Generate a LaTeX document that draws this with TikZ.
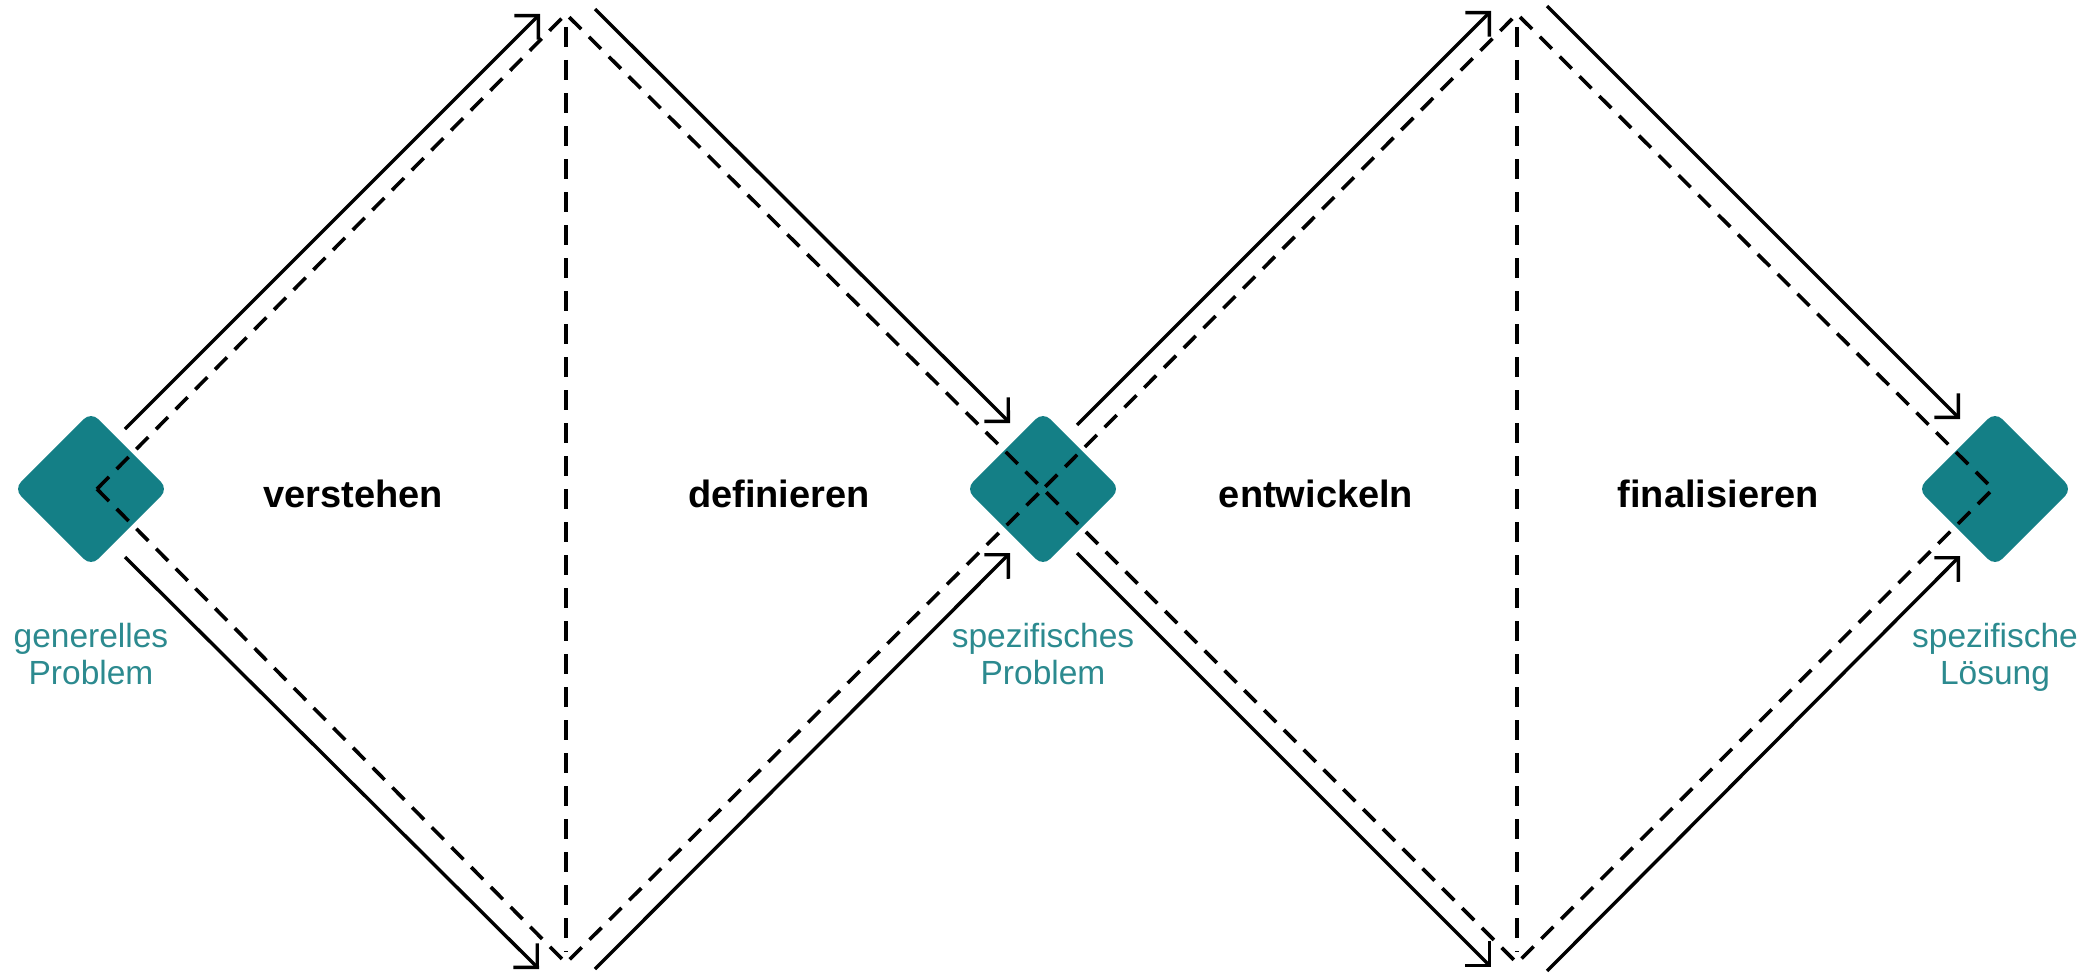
\documentclass[tikz,border=0pt]{standalone}
\usepackage{fontspec}
\setmainfont{Liberation Sans}
\usetikzlibrary{arrows.meta}
\definecolor{teal1}{HTML}{147F86}
\definecolor{teal2}{HTML}{2C8A8F}
\tikzset{
  diam/.style={draw=none, fill=teal1, rectangle, rotate=45, minimum width=109pt, minimum height=109pt, rounded corners=10pt, inner sep=0pt},
  dsh/.style={line width=3.6pt, dash pattern=on 17pt off 11pt, black},
  vdsh/.style={line width=3.6pt, dash pattern=on 20pt off 13pt, black},
  arr/.style={line width=3.4pt, black, -{Straight Barb[length=17pt, width=34pt]}},
  phase/.style={font=\fontsize{38}{40}\selectfont\bfseries, inner sep=0pt, anchor=base},
  state/.style={font=\fontsize{33.5}{37}\selectfont, text=teal2, align=center, inner sep=0pt, anchor=north}
}
\begin{document}
\begin{tikzpicture}[x=1pt, y=-1pt]
\useasboundingbox (0,0) rectangle (2100,974);
% diamonds
\node[diam] (d1) at (91,489) {};
\node[diam] (d2) at (1043,489) {};
\node[diam] (d3) at (1995,489) {};
% dashed framework
\coordinate (L) at (97,489);
\coordinate (M) at (1043,489);
\coordinate (R) at (1993,489);
\coordinate (A1) at (566,14);
\coordinate (B1) at (566,963);
\coordinate (A2) at (1517,14);
\coordinate (B2) at (1517,963);
\coordinate (V1t) at (566,27);
\coordinate (V1b) at (566,952);
\coordinate (V2t) at (1517,27);
\coordinate (V2b) at (1517,952);
\draw[dsh] (L) -- (A1) -- (M) -- (A2) -- (R);
\draw[dsh] (L) -- (B1) -- (M) -- (B2) -- (R);
\draw[vdsh] (V1t) -- (V1b);
\draw[vdsh] (V2t) -- (V2b);
% solid arrows
\coordinate (s1) at (125,429);  \coordinate (e1) at (540,14);
\coordinate (s2) at (595,9);    \coordinate (e2) at (1010,423);
\coordinate (s3) at (125,557);  \coordinate (e3) at (539,969);
\coordinate (s4) at (595,969);  \coordinate (e4) at (1010,553);
\coordinate (s5) at (1077,425); \coordinate (e5) at (1491,11);
\coordinate (s6) at (1547,6);   \coordinate (e6) at (1960,419);
\coordinate (s7) at (1077,553); \coordinate (e7) at (1491,967);
\coordinate (s8) at (1547,971); \coordinate (e8) at (1960,556);
\foreach \i in {1,...,8} { \draw[arr] (s\i) -- (e\i); }
% phase labels
\node[phase] (p1) at (353,507) {verstehen};
\node[phase] (p2) at (779,507) {definieren};
\node[phase] (p3) at (1316,507) {entwickeln};
\node[phase] (p4) at (1718,507) {finalisieren};
% state labels
\node[state] (l1) at (91,623) {generelles\\Problem};
\node[state] (l2) at (1043,623) {spezifisches\\Problem};
\node[state] (l3) at (1995,623) {spezifische\\Lösung};
\end{tikzpicture}
\end{document}
